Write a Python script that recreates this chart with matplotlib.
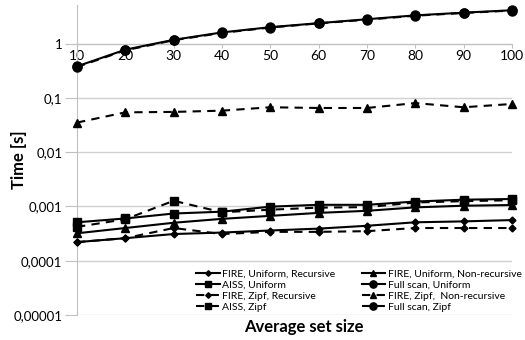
import matplotlib
matplotlib.use("Agg")
import matplotlib.pyplot as plt
from matplotlib.ticker import FixedLocator, NullLocator

plt.rcParams['font.family'] = ['Lato', 'DejaVu Sans']

set_sizes = [10, 20, 30, 40, 50, 60, 70, 80, 90, 100]

fire_uni_rec = [0.00022, 0.00026, 0.00031, 0.00033, 0.00036, 0.00039, 0.00044, 0.00051, 0.00053, 0.00056]
fire_uni_nonrec = [0.00032, 0.00040, 0.00050, 0.00059, 0.00067, 0.00076, 0.00083, 0.00096, 0.00103, 0.00106]
aiss_uni = [0.00051, 0.00060, 0.00074, 0.00080, 0.00099, 0.00107, 0.00107, 0.00123, 0.00133, 0.00137]
full_uni = [0.38, 0.77, 1.17, 1.6, 2.0, 2.37, 2.8, 3.3, 3.7, 4.1]
fire_zipf_rec = [0.00022, 0.00026, 0.00040, 0.00031, 0.00034, 0.00034, 0.00035, 0.00040, 0.00040, 0.00040]
fire_zipf_nonrec = [0.035, 0.054, 0.055, 0.058, 0.067, 0.065, 0.065, 0.080, 0.067, 0.077]
aiss_zipf = [0.00042, 0.00058, 0.00127, 0.00078, 0.00087, 0.00095, 0.00097, 0.00118, 0.00125, 0.00130]
full_zipf = [0.37, 0.75, 1.15, 1.57, 1.97, 2.35, 2.75, 3.25, 3.65, 4.05]

y_ticks = [1e-5, 1e-4, 1e-3, 1e-2, 1e-1, 1]
y_labels = ['0,00001', '0,0001', '0,001', '0,01', '0,1', '1']

fig = plt.figure(figsize=(5.25, 3.4), dpi=100)
ax = fig.add_axes([0.1467, 0.0735, 0.8283, 0.9115])

series = [
    ('FIRE, Uniform, Recursive', fire_uni_rec, '-', 'D', 3.5),
    ('FIRE, Uniform, Non-recursive', fire_uni_nonrec, '-', '^', 5.5),
    ('AISS, Uniform', aiss_uni, '-', 's', 6),
    ('Full scan, Uniform', full_uni, '-', 'o', 6.5),
    ('FIRE, Zipf, Recursive', fire_zipf_rec, '--', 'D', 3.5),
    ('FIRE, Zipf,  Non-recursive', fire_zipf_nonrec, '--', '^', 5.5),
    ('AISS, Zipf', aiss_zipf, '--', 's', 6),
    ('Full scan, Zipf', full_zipf, '--', 'o', 6.5),
]

handles = []
for name, vals, ls, mk, ms in series:
    h, = ax.plot(set_sizes, vals, linestyle=ls, marker=mk, markersize=ms,
                 color='black', linewidth=1.5, label=name, clip_on=False, zorder=3,
                 dashes=(4, 3) if ls == '--' else (None, None))
    handles.append(h)

ax.set_yscale('log')
ax.set_ylim(1e-5, 5.1)
ax.set_xlim(10, 100)
ax.yaxis.set_major_locator(FixedLocator(y_ticks))
ax.yaxis.set_minor_locator(NullLocator())
ax.set_yticklabels(y_labels)
ax.set_xticks(set_sizes)
ax.set_xticklabels([str(s) for s in set_sizes])

ax.grid(True, axis='y', color='#d0d0d0', linewidth=1)
ax.set_axisbelow(True)

for s in ['top', 'right']:
    ax.spines[s].set_visible(False)
ax.spines['bottom'].set_position(('data', 1))
ax.spines['bottom'].set_color('#c0c0c0')
ax.spines['left'].set_color('#c0c0c0')
ax.tick_params(axis='y', length=8.5, color='#c0c0c0', labelsize=9.5, pad=2)
ax.tick_params(axis='x', length=3, color='#c0c0c0', labelsize=10, pad=2)

# y label placed by hand, the long tick labels sit under it
fig.text(0.036, 0.53, 'Time [s]', fontsize=12, fontweight='bold',
         rotation=90, ha='center', va='center')
fig.text(0.578, 0.038, 'Average set size', fontsize=12, fontweight='bold',
         ha='center', va='center')

order = [0, 2, 4, 6, 1, 3, 5, 7]
ax.legend([handles[i] for i in order], [series[i][0] for i in order],
          ncol=2, loc='upper left', bbox_to_anchor=(0.36, 0.228),
          bbox_transform=fig.transFigure, frameon=False, fontsize=7.5,
          handlelength=2.3, handletextpad=0.2, columnspacing=2.5,
          labelspacing=0.15, borderpad=0.2, markerscale=0.8)

fig.savefig('out.png', dpi=100)
